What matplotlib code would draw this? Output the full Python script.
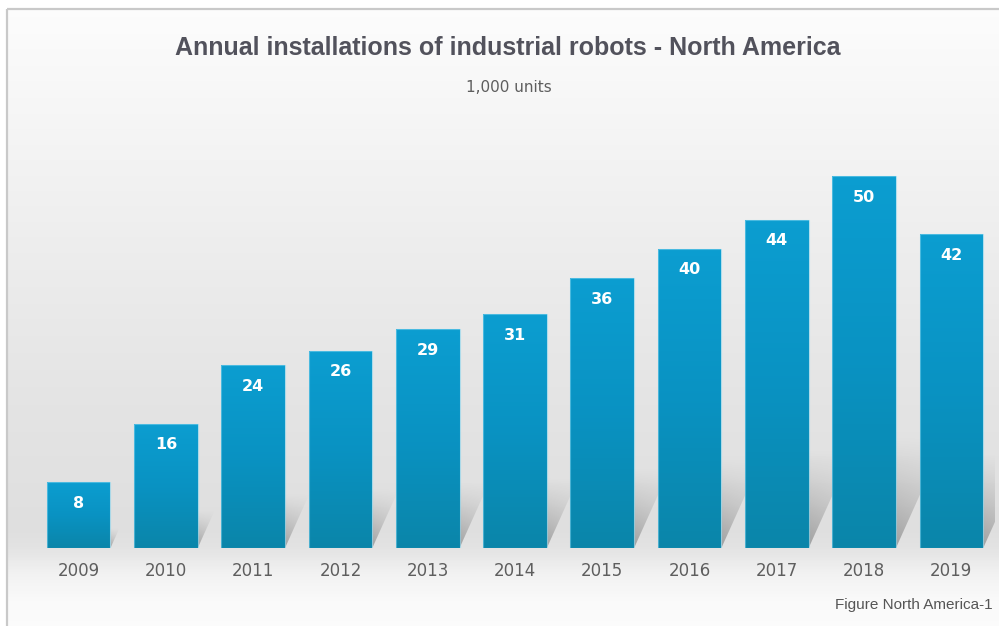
import numpy as np
import matplotlib
matplotlib.use("Agg")
import matplotlib.pyplot as plt
from matplotlib.patches import Polygon, Rectangle
from matplotlib.colors import LinearSegmentedColormap

# Annual installations of industrial robots, North America (thousand units)
years = ["2009", "2010", "2011", "2012", "2013", "2014",
         "2015", "2016", "2017", "2018", "2019"]
installations = [8, 16, 24, 26, 29, 31, 36, 40, 44, 50, 42]

title = "Annual installations of industrial robots - North America"
subtitle = "1,000 units"
caption = "Figure North America-1"

W, H = 999, 626
fig = plt.figure(figsize=(W / 100, H / 100), dpi=100, facecolor="white")

# ---- background panel (pixel coordinates) ----
bg = fig.add_axes([0, 0, 1, 1], zorder=0)
bg.set_xlim(0, W)
bg.set_ylim(H, 0)
bg.axis("off")
ys = np.linspace(9, H, 400)
stop_y = [9, 100, 250, 400, 530, 548, 575, 600, 626]
stop_v = [0.99, 0.968, 0.93, 0.895, 0.875, 0.89, 0.95, 0.98, 0.985]
shade = np.interp(ys, stop_y, stop_v)
bg_img = np.dstack([np.repeat(shade[:, None], 2, axis=1)] * 3)
bg.imshow(bg_img, extent=[7, W + 2, H, 9], aspect="auto", origin="upper",
          interpolation="nearest", zorder=0)
bg.plot([7, 7], [H, 9], color="#c9c9c9", lw=1.6, zorder=1,
        solid_capstyle="butt")
bg.plot([7, W], [9, 9], color="#c9c9c9", lw=1.6, zorder=1,
        solid_capstyle="butt")

# ---- bar axes ----
ax = fig.add_axes([35 / W, 1 - 548 / H, 960 / W, 448 / H], zorder=1)
ax.patch.set_visible(False)
base = -1.05
x0, x1 = -0.5, len(years) - 0.5
y1 = 60.44
ax.set_xlim(x0, x1)
ax.set_ylim(base, y1)
ax.axis("off")

px_x = (x1 - x0) / 960.0      # data units per pixel, horizontal
px_y = (y1 - base) / 448.0    # data units per pixel, vertical
bar_w = 0.73

xpos = np.arange(len(years))
vals = np.array(installations, dtype=float)
bars = ax.bar(xpos, vals - base, bottom=base, width=bar_w,
              facecolor="#0992c2", edgecolor="none", zorder=3)

bar_cmap = LinearSegmentedColormap.from_list(
    "bar", ["#0b9dd0", "#0992c2", "#0a85a9"])

for i, (rect, v) in enumerate(zip(bars, vals)):
    xl = rect.get_x()
    xr = xl + rect.get_width()
    bar_h_px = (v - base) / px_y

    # cast shadow leaning to the right of the bar
    sh_h_px = 0.30 * bar_h_px
    sh_h = sh_h_px * px_y
    sh_dx = 0.45 * sh_h_px * px_x
    tri = Polygon([(xr, base), (xr + sh_dx, base + sh_h), (xr, base + sh_h)],
                  closed=True, transform=ax.transData, facecolor="none",
                  edgecolor="none")
    ax.add_patch(tri)
    n = 128
    vert = np.linspace(0.0, 1.0, n)[:, None] ** 1.2      # top -> bottom
    horiz = np.linspace(1.0, 0.55, 32)[None, :]
    sh = np.zeros((n, 32, 4))
    sh[..., :3] = 0.42
    sh[..., 3] = 0.55 * vert * horiz
    im = ax.imshow(sh, extent=[xr, xr + sh_dx, base, base + sh_h],
                   origin="upper", aspect="auto", interpolation="bilinear",
                   zorder=2)
    im.set_clip_path(tri)

    # vertical colour gradient inside the bar: darker at the foot
    yedges = np.linspace(base, v, 121)
    shade_bar = np.linspace(1, 0, 120)[:, None]   # bottom row -> top row
    mesh = ax.pcolormesh([xl, xr], yedges, shade_bar, cmap=bar_cmap,
                         vmin=0, vmax=1, shading="flat", zorder=3.5,
                         antialiased=False, edgecolors="none")
    mesh.set_clip_path(rect)
    ax.add_patch(Rectangle((xl, base), xr - xl, v - base, facecolor="none",
                           edgecolor="#7fd3ee", lw=0.8, alpha=0.55,
                           zorder=3.8))

    ax.annotate(f"{v:g}", xy=(i, v), xytext=(0, -21),
                textcoords="offset pixels", ha="center", va="center",
                color="white", fontsize=11.5, fontweight="bold",
                family="DejaVu Sans", zorder=5)
    ax.annotate(years[i], xy=(i, base), xytext=(0, -23),
                textcoords="offset pixels", ha="center", va="center",
                color="#5e5e5e", fontsize=12, family="DejaVu Sans",
                annotation_clip=False, zorder=5)

ax.set_xlim(x0, x1)
ax.set_ylim(base, y1)

# ---- titles ----
fig.text(508 / W, 1 - 48 / H, title, ha="center", va="center",
         fontsize=18, fontweight="bold", family="Liberation Sans",
         color="#52525c")
fig.text(509 / W, 1 - 88 / H, subtitle, ha="center", va="center",
         fontsize=11, family="DejaVu Sans", color="#5e5e5e")
fig.text(993 / W, 1 - 605 / H, caption, ha="right", va="center",
         fontsize=11, family="Liberation Sans", color="#555555")

fig.savefig("out.png", dpi=100, facecolor="white")
